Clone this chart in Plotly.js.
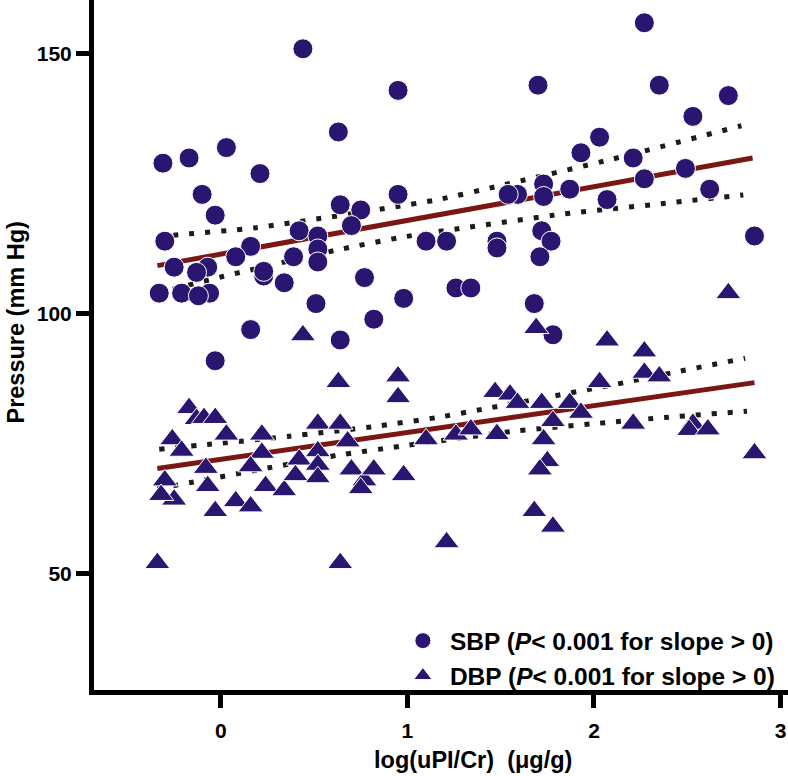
<!DOCTYPE html>
<html>
<head>
<meta charset="utf-8">
<script src="https://cdn.plot.ly/plotly-3.0.1.min.js"></script>
<style>html,body{margin:0;padding:0;background:#fff;}#chart{width:788px;height:776px;}</style>
</head>
<body>
<div id="chart"></div>
<script>
// SBP points (log(uPI/Cr), mmHg)
const sbpX = [0.44,0.95,0.63,-0.31,-0.17,0.03,0.21,-0.10,-0.03,0.95,0.64,0.75,0.70,-0.30,0.42,0.52,0.52,0.52,0.39,0.16,0.08,-0.07,-0.25,-0.13,0.23,0.23,0.34,0.77,-0.33,-0.21,-0.06,-0.12,0.51,0.98,0.16,-0.03,0.64,0.82,
  2.27,1.70,2.35,2.72,2.53,2.03,1.93,2.21,2.27,2.49,2.62,1.87,2.07,1.73,1.73,1.59,1.54,1.10,1.21,1.48,1.48,1.72,1.77,1.71,2.86,1.26,1.34,1.68,1.78];
const sbpY = [151,143,135,129,130,132,127,123,119,123,121,120,117,114,116,115,112.5,110,111,113,111,109,109,108,107.3,108.2,106,107,104,104,104,103.5,102,103,97,91,95,99,
  156,144,144,142,138,134,131,130,126,128,124,124,122,125,122.6,123,123,114,114,114,112.7,116,114,111,115,105,105,102,96];

// DBP points
const dbpX = [0.44,0.63,0.95,0.95,-0.17,-0.13,-0.09,-0.03,0.03,-0.26,-0.21,0.22,0.22,0.52,0.64,0.68,0.16,-0.08,-0.07,-0.30,-0.25,-0.32,-0.03,0.08,0.16,0.24,0.34,0.42,0.40,0.52,0.52,0.52,0.70,0.77,0.75,0.82,0.98,1.10,-0.34,0.64,1.21,
  2.07,2.27,2.27,2.35,2.03,1.47,1.55,1.59,1.72,1.87,1.93,1.78,1.73,1.75,1.71,1.68,1.78,1.26,1.34,1.48,2.21,2.53,2.51,2.61,2.86,2.72,1.69];
const dbpY = [95.9,86.9,88.0,84.0,81.9,79.8,80.0,80.0,76.8,75.9,73.7,76.8,73.3,78.9,78.9,75.5,70.7,70.4,66.9,68.0,64.3,65.2,62.1,64.0,63.0,66.9,66.1,72.0,69.0,73.6,71.0,68.6,70.1,68.0,66.5,70.1,69.0,75.9,52.1,52.1,56.1,
  94.9,92.8,88.7,88.0,86.9,85.0,84.5,82.9,82.9,82.9,81.0,79.4,75.9,71.7,70.1,62.1,59.1,76.8,77.8,76.9,78.9,78.9,77.7,77.8,73.2,104.0,97.3];

// Regression lines (end points)
const sbpFitX = [-0.34, 2.85];
const sbpFitY = [109.3, 130.0];
const dbpFitX = [-0.34, 2.86];
const dbpFitY = [70.3, 86.8];

// 95% confidence bands
const sbpUpX = [-0.34,-0.24,0.19,1.15,1.50,2.10,2.79];
const sbpUpY = [114.9,115.2,116.6,121.9,124.7,129.8,136.2];
const sbpLoX = [-0.34,0.01,0.61,0.96,1.31,1.83,2.36,2.80];
const sbpLoY = [104.0,107.2,112.2,114.7,116.6,119.2,121.2,122.9];
const dbpUpX = [-0.33,-0.07,0.37,0.81,1.16,1.42,2.12,2.46,2.81];
const dbpUpY = [74.0,74.9,76.5,78.3,80.1,81.8,86.5,89.0,91.5];
const dbpLoX = [-0.34,-0.16,0.27,0.62,0.97,1.58,2.03,2.38,2.82];
const dbpLoY = [66.4,67.6,70.5,72.8,74.6,77.5,79.0,80.1,81.3];

const xTicks = [0,1,2,3];
const yTicks = [50,100,150];

const mk = '#2a1670';
const fitColor = '#7a1712';
const dotColor = '#1c1c1c';
const FONT = 'Liberation Sans, Arial, Helvetica, sans-serif';

function band(x, y) {
  return {x: x, y: y, mode: 'lines', type: 'scatter', showlegend: false, hoverinfo: 'skip',
    line: {color: dotColor, width: 5, dash: '5px,11px', shape: 'spline', smoothing: 0.6}};
}
function fit(x, y) {
  return {x: x, y: y, mode: 'lines', type: 'scatter', showlegend: false, hoverinfo: 'skip',
    line: {color: fitColor, width: 5}};
}

const data = [
  band(sbpUpX, sbpUpY), band(sbpLoX, sbpLoY), band(dbpUpX, dbpUpY), band(dbpLoX, dbpLoY),
  fit(sbpFitX, sbpFitY), fit(dbpFitX, dbpFitY),
  {x: sbpX, y: sbpY, mode: 'markers', type: 'scatter', name: 'SBP (<i>P</i>&lt; 0.001 for slope &gt; 0)',
   legendgroup: 'a', marker: {symbol: 'circle', size: 20, color: mk, line: {color: '#ffffff', width: 1}}},
  {x: dbpX, y: dbpY, mode: 'markers', type: 'scatter', name: 'DBP (<i>P</i>&lt; 0.001 for slope &gt; 0)',
   legendgroup: 'b', marker: {symbol: 'triangle-up', size: 22, color: mk, line: {color: '#ffffff', width: 1}}}
];

const layout = {
  width: 788, height: 776,
  margin: {l: 94, r: 0, t: 0, b: 86, pad: 0},
  paper_bgcolor: '#ffffff', plot_bgcolor: '#ffffff',
  font: {family: FONT, color: '#000000', size: 20, weight: 700},
  showlegend: true,
  legend: {x: 0.435, xanchor: 'left', y: 0.104, yanchor: 'top', bgcolor: 'rgba(0,0,0,0)',
    traceorder: 'grouped', tracegroupgap: 0, itemwidth: 44,
    font: {family: FONT, size: 24.5, weight: 700, color: '#000000'}},
  xaxis: {range: [-0.6795, 3.0397], tickvals: xTicks, ticktext: xTicks.map(String),
    showgrid: false, zeroline: false, showline: true, linecolor: '#000', linewidth: 5,
    ticks: 'outside', ticklen: 13, tickwidth: 5, tickcolor: '#000', ticklabelstandoff: 5,
    tickfont: {family: FONT, size: 21, weight: 700, color: '#000'}, fixedrange: true},
  yaxis: {range: [27.69, 160.38], tickvals: yTicks, ticktext: yTicks.map(String),
    showgrid: false, zeroline: false, showline: true, linecolor: '#000', linewidth: 5,
    ticks: 'outside', ticklen: 13, tickwidth: 5, tickcolor: '#000',
    tickfont: {family: FONT, size: 21, weight: 700, color: '#000'}, fixedrange: true},
  annotations: [
    {text: 'log(uPI/Cr) \u00a0(\u03bcg/g)', xref: 'paper', yref: 'paper', x: 0.5468, y: -0.1014,
     xanchor: 'center', yanchor: 'middle', showarrow: false,
     font: {family: FONT, size: 23.5, weight: 700, color: '#000'}},
    {text: 'Pressure (mm Hg)', xref: 'paper', yref: 'paper', x: -0.1138, y: 0.5326, textangle: -90,
     xanchor: 'center', yanchor: 'middle', showarrow: false,
     font: {family: FONT, size: 23.5, weight: 700, color: '#000'}}
  ]
};

Plotly.newPlot('chart', data, layout, {displayModeBar: false, staticPlot: true});
</script>
</body>
</html>
